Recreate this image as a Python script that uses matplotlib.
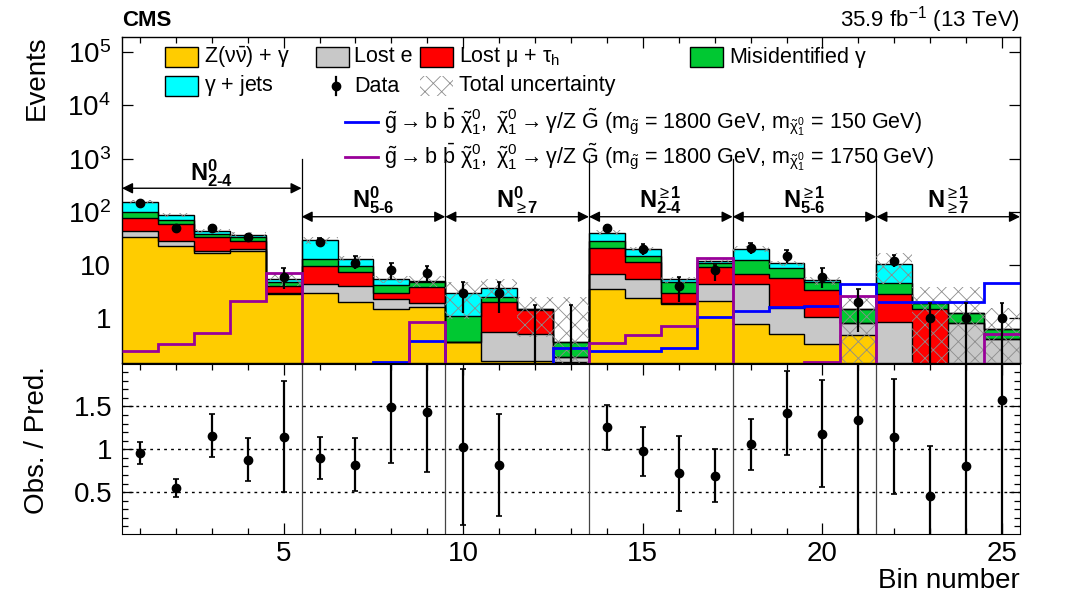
import matplotlib
matplotlib.use('Agg')
import matplotlib.pyplot as plt
import numpy as np
from matplotlib.patches import Rectangle
from matplotlib.lines import Line2D
from matplotlib.ticker import FixedLocator

plt.rcParams['font.family'] = ['Liberation Sans', 'DejaVu Sans']
plt.rcParams['mathtext.fontset'] = 'custom'
plt.rcParams['mathtext.rm'] = 'Liberation Sans'
plt.rcParams['mathtext.it'] = 'Liberation Sans'
plt.rcParams['mathtext.sf'] = 'Liberation Sans'
plt.rcParams['mathtext.bf'] = 'Liberation Sans:bold'
plt.rcParams['hatch.linewidth'] = 0.6

# ---------------- data ----------------
bins = list(range(1, 26))
z_nunu_gamma = [33.2, 22.9, 17.1, 18.5, 2.83, 3.0, 2.0, 1.47, 1.66, 0.36, 0.16, 0.16, 0.15,
                3.54, 2.44, 1.85, 2.14, 0.78, 0.50, 0.33, 0.49, 0, 0, 0, 0]
lost_e = [10.3, 6.0, 1.4, 1.8, 0.17, 1.34, 2.05, 0.82, 0.25, 0, 0.40, 0.35, 0.04,
          3.28, 2.97, 0.08, 2.27, 3.56, 1.08, 0.74, 0.34, 0.87, 0.10, 0.80, 0.41]
lost_mu_tau = [32.2, 30.7, 14.7, 8.6, 1.07, 5.21, 3.30, 0.66, 1.90, 0, 1.49, 0.92, 0,
               14.3, 5.9, 1.02, 4.70, 2.39, 4.09, 2.34, 0, 1.96, 1.37, 0, 0]
misid_gamma = [22.0, 10.3, 6.0, 5.1, 0.80, 3.35, 2.20, 1.28, 1.06, 0.74, 0.42, 0.04, 0.17,
               7.3, 3.5, 1.92, 1.69, 5.67, 3.0, 1.46, 0.64, 1.69, 0.44, 0.44, 0.22]
gamma_jets = [57.9, 17.6, 4.3, 3.5, 0.54, 16.9, 3.65, 1.18, 0.05, 1.85, 1.16, 0, 0,
              12.3, 5.3, 0.54, 1.1, 7.7, 2.1, 0.36, 0, 5.8, 0, 0, 0]

unc_hi = [170, 94, 47.7, 41, 7.2, 34, 14.6, 6.3, 6.3, 4.9, 5.4, 2.5, 2.5,
          45, 22, 6.05, 12.9, 22.4, 12.0, 6.0, 2.55, 16.7, 3.8, 3.8, 1.54]
unc_lo = [141, 81, 40, 34, 4.0, 25.4, 11.8, 4.7, 3.9, 0.95, 2.3, 0.45, 0.01,
          36.6, 18, 4.55, 10.9, 17.7, 9.6, 4.3, 0.01, 4.5, 0.01, 0.01, 0.01]

data = [150, 49, 50, 33, 6, 27, 11, 8, 7, 3, 3, 0, 0,
        50, 20, 4, 8, 21, 15, 6, 2, 12, 1, 1, 1]
data_lo = [138, 42, 43.5, 28, 3.5, 22, 8.5, 5.4, 4.8, 1.27, 1.27, 0.01, 0.01,
           43, 15.5, 2.05, 5.1, 16.2, 11.1, 3.66, 0.56, 9.1, 0.01, 0.01, 0.01]
data_hi = [162, 57, 57, 39, 8.7, 32, 15, 11.1, 9.8, 4.9, 4.9, 1.78, 1.78,
           56, 24.6, 6.05, 10.0, 26.4, 19.2, 8.7, 3.51, 15.5, 1.96, 1.96, 1.96]

sig_1800_150 = [0.05, 0.05, 0.05, 0.05, 0.05, 0.05, 0.05, 0.15, 0.378, 0.05, 0.05, 0.05, 0.275,
                0.238, 0.247, 0.275, 1.075, 1.38, 1.66, 1.70, 4.34, 2.0, 2.05, 2.05, 4.52]
sig_1800_1750 = [0.242, 0.322, 0.522, 2.14, 7.0, 0.05, 0.05, 0.05, 0.838, 0.05, 0.05, 0.05, 0.05,
                 0.340, 0.488, 0.728, 13.4, 0.05, 0.05, 0.15, 2.63, 0.05, 0.05, 0.05, 0.507]

ratio = [0.956, 0.55, 1.155, 0.877, 1.147, 0.897, 0.817, 1.49, 1.44, 1.024, 0.817, np.nan, np.nan,
         1.258, 0.976, 0.718, 0.687, 1.056, 1.42, 1.18, 1.337, 1.147, 0.45, 0.806, 1.58]
ratio_lo = [0.825, 0.44, 0.905, 0.63, 0.5, 0.65, 0.51, 0.837, 0.74, 0.11, 0.226, np.nan, np.nan,
            0.996, 0.69, 0.28, 0.385, 0.754, 0.93, 0.56, -0.5, 0.48, -0.5, -0.5, -0.5]
ratio_hi = [1.087, 0.65, 1.41, 1.13, 1.80, 1.147, 1.127, 2.5, 2.5, 1.94, 1.417, np.nan, np.nan,
            1.52, 1.265, 1.16, 1.0, 1.354, 1.91, 1.81, 2.5, 1.82, 1.04, 2.5, 2.5]

HY = '\u2010'
region_edges = [0.5, 5.5, 9.5, 13.5, 17.5, 21.5, 25.5]
region_labels = [r'$\mathbf{N}^{\mathbf{0}}_{\mathbf{2' + HY + r'4}}$',
                 r'$\mathbf{N}^{\mathbf{0}}_{\mathbf{5' + HY + r'6}}$',
                 r'$\mathbf{N}^{\mathbf{0}}_{\geq\mathbf{7}}$',
                 r'$\mathbf{N}^{\geq\mathbf{1}}_{\mathbf{2' + HY + r'4}}$',
                 r'$\mathbf{N}^{\geq\mathbf{1}}_{\mathbf{5' + HY + r'6}}$',
                 r'$\mathbf{N}^{\geq\mathbf{1}}_{\geq\mathbf{7}}$']

# ---------------- figure ----------------
W, H = 1070, 610
fig = plt.figure(figsize=(W / 100, H / 100), dpi=100)

def fx(x):
    return x / W

def fy(y):
    return 1 - y / H

L, R = 122, 1020
mt, mb = 36.7, 362.7
rt, rb = 363.7, 534.0
ax = fig.add_axes([fx(L), fy(mb), (R - L) / W, (mb - mt) / H])
axr = fig.add_axes([fx(L), fy(rb), (R - L) / W, (rb - rt) / H])

edges = np.arange(0.5, 26.0, 1.0)
x = np.array(bins, dtype=float)

cols = ['#FFCC00', '#C8C8C8', '#FF0000', '#00C832', '#00FFFF']
comps = [z_nunu_gamma, lost_e, lost_mu_tau, misid_gamma, gamma_jets]
floor = 1e-3
cum = np.zeros(25)
for vals, c in zip(comps, cols):
    top = cum + np.array(vals, dtype=float)
    ax.stairs(np.maximum(top, floor), edges, baseline=np.maximum(cum, floor),
              fill=True, color=c, zorder=2)
    cum = top
cum = np.zeros(25)
for vals in comps:
    top = cum + np.array(vals, dtype=float)
    ax.stairs(np.maximum(top, floor), edges, baseline=None, color='k', lw=1.0, zorder=3)
    cum = top

# uncertainty band
ax.stairs(unc_hi, edges, baseline=unc_lo, fill=True, facecolor='none',
          edgecolor='#8c8c8c', hatch='xx', lw=0, zorder=4)

# signals
ax.stairs(sig_1800_150, edges, baseline=None, color='#0000FF', lw=2.0, zorder=5)
ax.stairs(sig_1800_1750, edges, baseline=None, color='#990099', lw=2.0, zorder=5)

# data
d = np.array(data, dtype=float)
ax.vlines(x, data_lo, data_hi, color='k', lw=1.6, zorder=6)
ax.hlines(data_hi, x - 0.06, x + 0.06, color='k', lw=1.2, zorder=6)
ax.plot(x[d > 0], d[d > 0], 'o', color='k', ms=6, zorder=7)

ax.set_yscale('log')
ax.set_xlim(0.5, 25.5)
ax.set_ylim(0.1463, 1.96e5)

# region separators, arrows, labels
for e in region_edges[1:-1]:
    ax.plot([e, e], [0.1463, 1000], color='k', lw=0.9, zorder=3)
for i in range(6):
    a, b = region_edges[i], region_edges[i + 1]
    yarr = 278 if i == 0 else 81
    ylab = 540 if i == 0 else 167
    ax.annotate('', xy=(a, yarr), xytext=(b, yarr),
                arrowprops=dict(arrowstyle='<|-|>', color='k', lw=1.0,
                                mutation_scale=16, shrinkA=0, shrinkB=0), zorder=8)
    ax.text((a + b) / 2, ylab, region_labels[i], ha='center', va='center', fontsize=17, zorder=8)

ax.set_yticks([1, 10, 1e2, 1e3, 1e4, 1e5])
ax.set_yticklabels(['1', '10', r'$10^{2}$', r'$10^{3}$', r'$10^{4}$', r'$10^{5}$'])
ax.set_xticks([5, 10, 15, 20, 25])
ax.xaxis.set_minor_locator(FixedLocator(bins))
ax.set_xticklabels([])
ax.tick_params(which='both', direction='in', top=True, right=True, labelsize=20)
ax.tick_params(which='major', length=8, width=0.9, pad=8)
ax.tick_params(which='minor', length=4, width=0.9)
for sp in ax.spines.values():
    sp.set_linewidth(1.0)

# ---------------- ratio panel ----------------
rr = np.array(ratio, dtype=float)
rlo = np.array(ratio_lo, dtype=float)
rhi = np.array(ratio_hi, dtype=float)
for yv in [0.5, 1.0, 1.5]:
    axr.axhline(yv, color='k', lw=1.0, ls=(0, (2, 3)), zorder=1)
for e in region_edges[1:-1]:
    axr.axvline(e, color='#444444', lw=0.9, zorder=1)
m = ~np.isnan(rr)
axr.errorbar(x[m], rr[m], yerr=[rr[m] - rlo[m], rhi[m] - rr[m]], fmt='o', color='k',
             ms=6, elinewidth=1.6, capsize=2, capthick=1.2, zorder=3)
axr.set_xlim(0.5, 25.5)
axr.set_ylim(0.01, 2.0)
axr.set_yticks([0.5, 1.0, 1.5])
axr.set_yticklabels(['0.5', '1', '1.5'])
axr.yaxis.set_minor_locator(FixedLocator(np.arange(0.1, 2.0, 0.1)))
axr.set_xticks([5, 10, 15, 20, 25])
axr.xaxis.set_minor_locator(FixedLocator(bins))
axr.tick_params(which='both', direction='in', top=True, right=True, labelsize=20)
axr.tick_params(which='major', length=8, width=0.9, pad=7)
axr.tick_params(which='minor', length=4, width=0.9)
axr.tick_params(axis='x', which='major', pad=5)

# ---------------- texts ----------------
fig.text(fx(122), fy(20), 'CMS', fontsize=16, fontweight='bold', ha='left', va='center')
fig.text(fx(1020), fy(20), r'35.9 fb$^{-1}$ (13 TeV)', fontsize=16, ha='right', va='center')
fig.text(fx(37), fy(35), 'Events', fontsize=20, rotation=90, ha='center', va='top')
fig.text(fx(37), fy(366), 'Obs. / Pred.', fontsize=20, rotation=90, ha='center', va='top')
fig.text(fx(1020), fy(581), 'Bin number', fontsize=20, ha='right', va='center')

# ---------------- legend ----------------
def box(x0, yc, color, hatch=None):
    if hatch:
        r = Rectangle((fx(x0), fy(yc + 10)), 33 / W, 20 / H, transform=fig.transFigure,
                      facecolor='none', edgecolor='#8c8c8c', hatch=hatch, lw=0)
    else:
        r = Rectangle((fx(x0), fy(yc + 10)), 33 / W, 20 / H, transform=fig.transFigure,
                      facecolor=color, edgecolor='k', lw=1.0)
    fig.patches.append(r)

lfs = 15.5
row1, row2 = 57, 86
box(165, row1, cols[0]); fig.text(fx(204), fy(row1), r'Z($\nu\bar{\nu}$) + $\gamma$', fontsize=lfs, va='center')
box(316, row1, cols[1]); fig.text(fx(354), fy(row1), 'Lost e', fontsize=lfs, va='center')
box(420, row1, cols[2]); fig.text(fx(459), fy(row1), r'Lost $\mu$ + $\tau_{\mathrm{h}}$', fontsize=lfs, va='center')
box(690, row1, cols[3]); fig.text(fx(729), fy(row1), r'Misidentified $\gamma$', fontsize=lfs, va='center')
box(165, row2, cols[4]); fig.text(fx(204), fy(row2), r'$\gamma$ + jets', fontsize=lfs, va='center')
fig.lines.append(Line2D([fx(336), fx(336)], [fy(row2 - 9), fy(row2 + 9)], transform=fig.transFigure, color='k', lw=1.6))
fig.lines.append(Line2D([fx(336)], [fy(row2)], transform=fig.transFigure, marker='o', color='k', ms=6))
fig.text(fx(354), fy(row2), 'Data', fontsize=lfs, va='center')
box(420, row2, None, hatch='xx'); fig.text(fx(459), fy(row2), 'Total uncertainty', fontsize=lfs, va='center')

sig_txt = (r'$\tilde{\mathrm{g}} \rightarrow \mathrm{b}\ \bar{\mathrm{b}}\ \tilde{\chi}^{0}_{1},\ '
           r'\tilde{\chi}^{0}_{1} \rightarrow \gamma/\mathrm{Z}\ \tilde{\mathrm{G}}$ '
           r'(m$_{\tilde{\mathrm{g}}}$ = 1800 GeV, m$_{\tilde{\chi}^{0}_{1}}$ = ')
for yc, c, mval in [(122, '#0000FF', '150'), (157, '#990099', '1750')]:
    fig.lines.append(Line2D([fx(345), fx(378)], [fy(yc), fy(yc)], transform=fig.transFigure, color=c, lw=2))
    fig.text(fx(384), fy(yc), sig_txt + mval + ' GeV)', fontsize=15.5, va='center')

fig.savefig('out.png', dpi=100)
